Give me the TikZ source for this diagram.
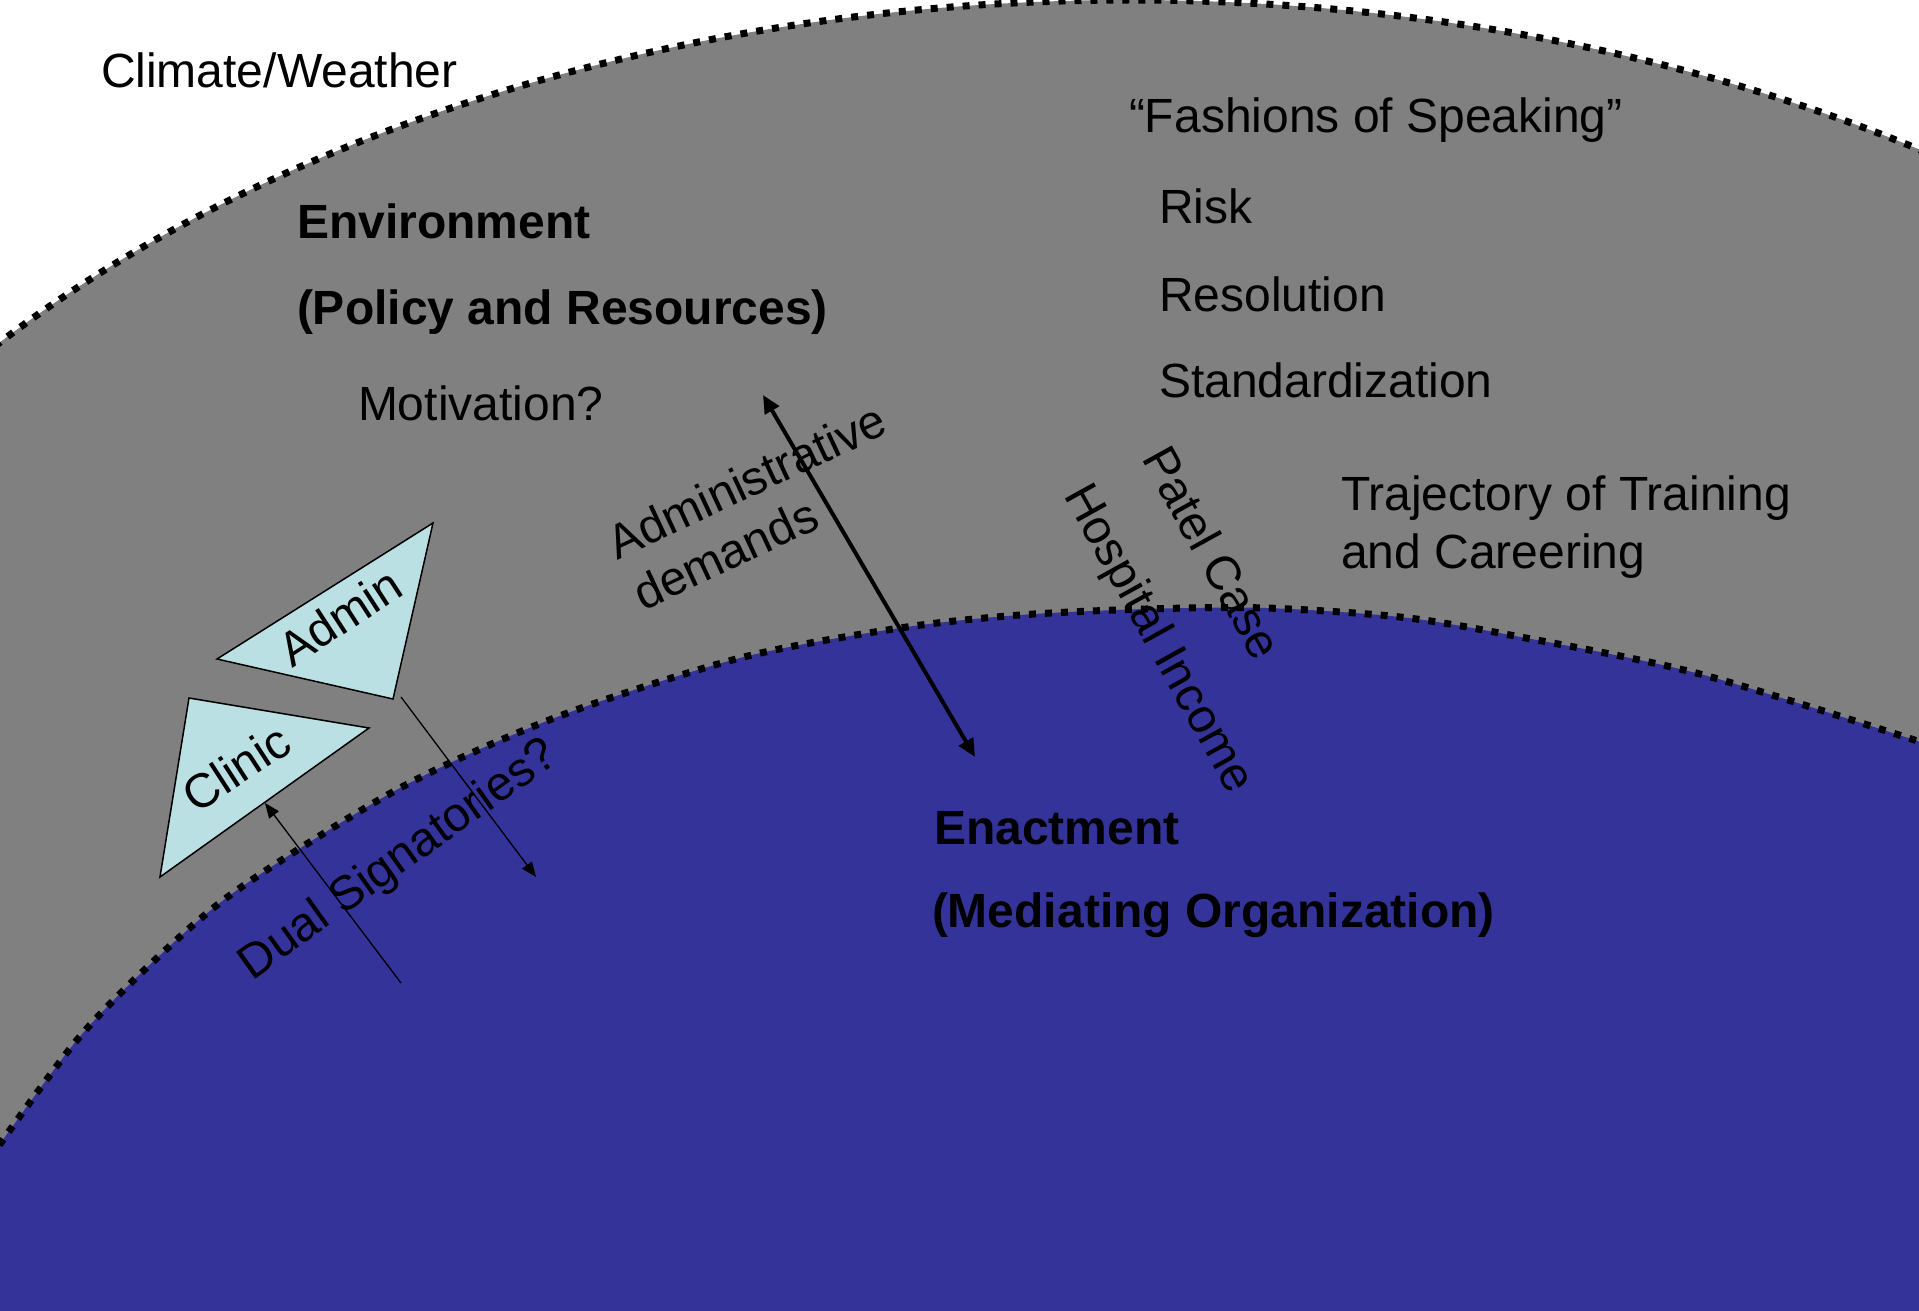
\documentclass[tikz,border=0pt]{standalone}
\usepackage{fontspec}
\setmainfont{Liberation Sans}
\usetikzlibrary{arrows.meta}
\definecolor{ringgray}{RGB}{128,128,128}
\definecolor{coreblue}{RGB}{51,51,153}
\definecolor{tricyan}{RGB}{187,224,227}
\begin{document}
\begin{tikzpicture}[x=0.5pt,y=-0.5pt,
  lbl/.style={inner sep=0pt, outer sep=0pt, anchor=base west, font=\fontsize{24}{28.8}\selectfont},
  blbl/.style={lbl, font=\fontsize{24}{28.8}\selectfont\bfseries},
  dotline/.style={line width=3.5pt, dash pattern=on 3.5pt off 4.5pt, draw=black},
  tri/.style={fill=tricyan, draw=black, line width=0.75pt, line join=miter},
  bigarrow/.style={line width=2pt, {Triangle[length=9pt,width=8pt]}-{Triangle[length=9pt,width=8pt]}},
  thinarrow/.style={line width=0.65pt, -{Triangle[length=7.5pt,width=6pt]}}
]
\useasboundingbox (0,0) rectangle (1919,1311);
\fill[white] (0,0) rectangle (1919,1311);
\begin{scope}
  \clip (0,0) rectangle (1919,1311);
  % outer region: environment
  \fill[ringgray] (1130,1000) ellipse [x radius=750pt, y radius=500pt];
  \draw[dotline] (1130,1000) ellipse [x radius=750pt, y radius=500pt];
  % inner region: enactment
  \fill[coreblue] plot[smooth] coordinates {(-10,1158) (77,1040) (157,958) (240,888) (400,788) (557,717) (740,658) (900,628) (1020,615) (1146,609) (1266,608) (1400,617) (1510,635) (1700,674) (1930,745)} -- (1930,1320) -- (-10,1320) -- cycle;
  \draw[dotline] plot[smooth] coordinates {(-10,1158) (77,1040) (157,958) (240,888) (400,788) (557,717) (740,658) (900,628) (1020,615) (1146,609) (1266,608) (1400,617) (1510,635) (1700,674) (1930,745)};
\end{scope}

% triangles
\draw[tri] (217,659) -- (433,523) -- (393,699) -- cycle;
\draw[tri] (189,698) -- (369,728) -- (160,877) -- cycle;

% horizontal texts
\node[lbl]  (clim) at (101,88)  {Climate/Weather};
\node[blbl] (env)  at (297,239) {Environment};
\node[blbl] (pol)  at (297,324) {(Policy and Resources)};
\node[lbl]  (mot)  at (358,420) {Motivation?};
\node[lbl]  (fash) at (1129,133) {“Fashions of Speaking”};
\node[lbl]  (risk) at (1159,224) {Risk};
\node[lbl]  (reso) at (1159,311) {Resolution};
\node[lbl]  (stan) at (1159,397) {Standardization};
\node[lbl]  (traj) at (1341,510) {Trajectory of Training};
\node[lbl]  (care) at (1341,568) {and Careering};
\node[blbl] (enac) at (934,844) {Enactment};
\node[blbl] (medi) at (932,927) {(Mediating Organization)};

% rotated texts
\node[lbl, rotate=25]   (adm1)  at (617,560)  {Administrative};
\node[lbl, rotate=25]   (adm2)  at (643,611)  {demands};
\node[lbl, rotate=-61]  (patel) at (1141,458) {Patel Case};
\node[lbl, rotate=-61]  (hosp)  at (1063,495) {Hospital Income};
\node[lbl, rotate=35.5] (dual)  at (252,981)  {Dual Signatories?};
\node[lbl, rotate=33]   (admin) at (292,668)  {Admin};
\node[lbl, rotate=33]   (clin)  at (196,814)  {Clinic};

% arrows
\coordinate (bigtop) at (763,395);
\coordinate (bigbot) at (975,757);
\draw[bigarrow] (bigtop) -- (bigbot);
\coordinate (up1tail) at (401,983);
\coordinate (up1tip) at (265,803);
\draw[thinarrow] (up1tail) -- (up1tip);
\coordinate (dn1tail) at (401,697);
\coordinate (dn1tip) at (536,877);
\draw[thinarrow] (dn1tail) -- (dn1tip);
\end{tikzpicture}
\end{document}
